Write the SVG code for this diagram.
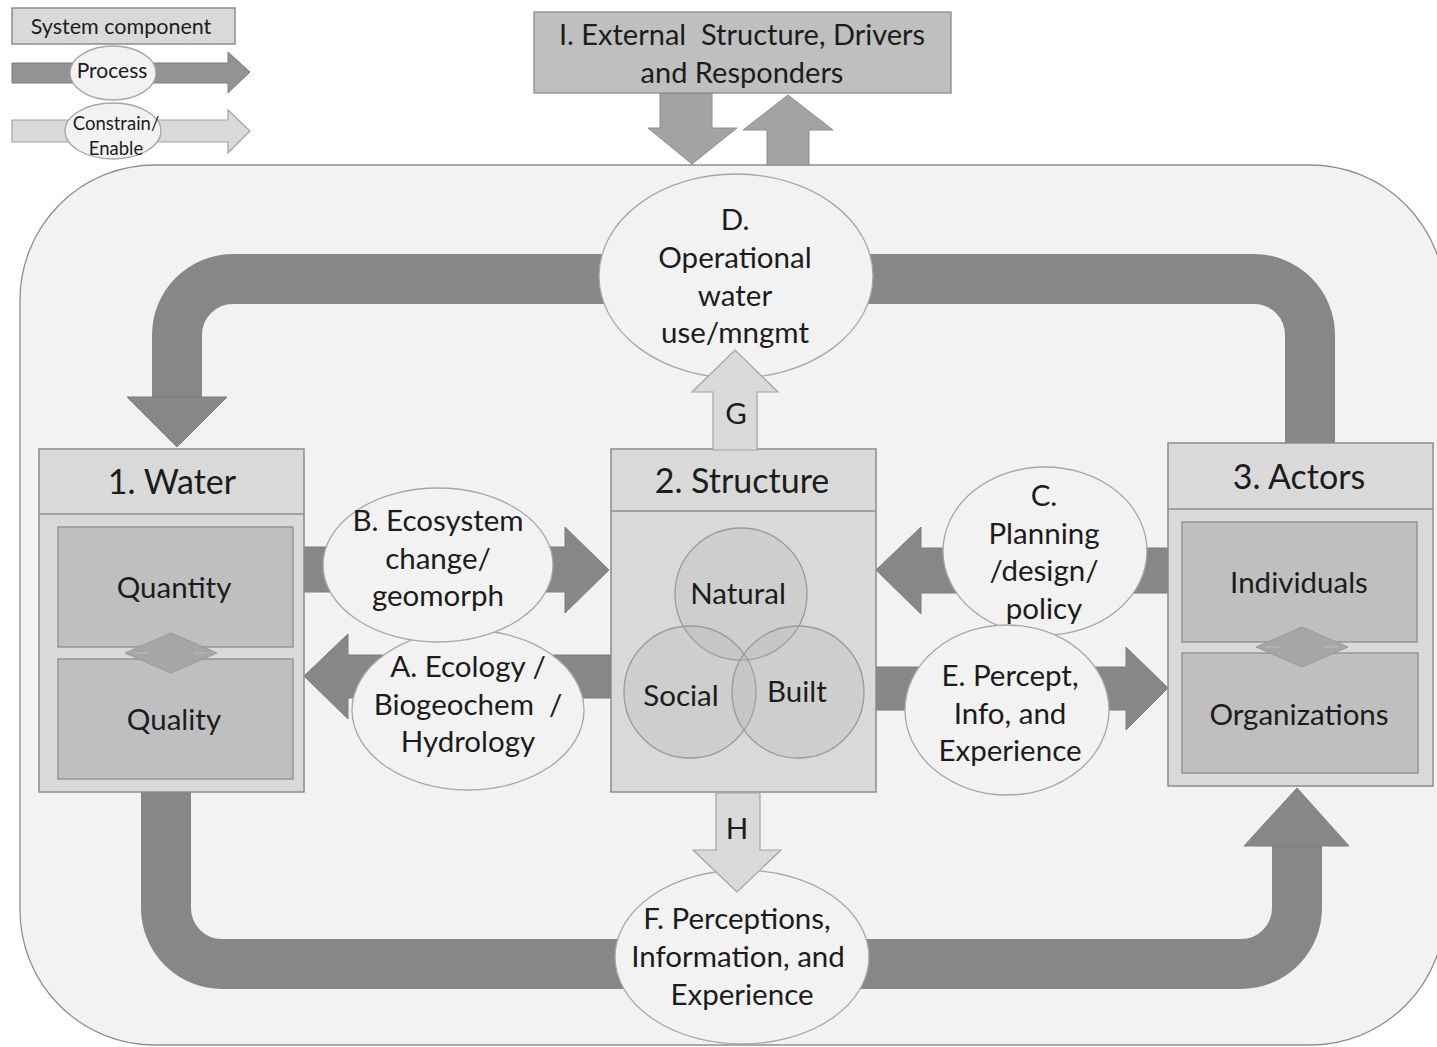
<svg xmlns="http://www.w3.org/2000/svg" width="1437" height="1047" viewBox="0 0 1437 1047">
  <style>
    .proc { fill: #878787; stroke: #7d7d7d; stroke-width: 1; }
    .band { fill: none; stroke: #878787; stroke-width: 50; }
    .ce { fill: #d9d9d9; stroke: #a3a3a3; stroke-width: 1.2; }
    .ext { fill: #a3a3a3; stroke: #8c8c8c; stroke-width: 1; }
    .ell { fill: #f2f2f2; stroke: #a6a6a6; stroke-width: 1.3; }
    .box { fill: #d9d9d9; stroke: #8c8c8c; stroke-width: 1.5; }
    .inner { fill: #bfbfbf; stroke: #8c8c8c; stroke-width: 1.3; }
    .circ { fill: #b0b0b0; fill-opacity: 0.25; stroke: #9a9a9a; stroke-width: 1.3; }
    .dia { fill: #a6a6a6; stroke: #999999; stroke-width: 1; }
    text { font-family: Lato, "Open Sans", "Liberation Sans", sans-serif; fill: #1c1c1c; text-anchor: middle; white-space: pre; }
    .t { font-size: 29.5px; }
    .h { font-size: 34px; }
  </style>

  <!-- system boundary -->
  <rect x="20" y="165" width="1425" height="880" rx="135" ry="135" fill="#f2f2f2" stroke="#8f8f8f" stroke-width="1.3"/>

  <!-- legend -->
  <g id="legend">
    <rect x="12" y="8" width="223" height="36" class="box" fill="#d9d9d9"/>
    <text x="121" y="34" style="font-size:21.5px">System component</text>
    <polygon class="proc" fill-opacity="0.9" points="12,63 228,63 228,52 250,72 228,93 228,83 12,83"/>
    <ellipse cx="113" cy="73" rx="43" ry="27" class="ell"/>
    <text x="112" y="78" style="font-size:21px">Process</text>
    <polygon class="ce" points="12,120 228,120 228,110 250,131 228,153 228,142 12,142"/>
    <ellipse cx="113" cy="131" rx="48" ry="28" class="ell"/>
    <text x="116" y="130" style="font-size:18.5px">Constrain/</text>
    <text x="116" y="155" style="font-size:18.5px">Enable</text>
  </g>

  <!-- connectors -->
  <g id="connectors">
    <!-- exchange with external box -->
    <polygon class="ext" points="660,93 712,93 712,128 737,128 692,164 648,128 660,128"/>
    <polygon class="ext" points="767,165 767,130 743,130 788,95 833,130 809,130 809,165"/>

    <!-- outer loop: actors -> D -> water -->
    <path class="band" d="M1310,443 V335 A56,56 0 0 0 1254,279 H233 A56,56 0 0 0 177,335 V398"/>
    <polygon class="proc" points="127,397 227,397 177,447"/>

    <!-- outer loop: water -> F -> actors -->
    <path class="band" d="M166,792 V908 A56,56 0 0 0 222,964 H1241 A56,56 0 0 0 1297,908 V845"/>
    <polygon class="proc" points="1244,846 1349,846 1297,788"/>

    <!-- B: water -> structure -->
    <polygon class="proc" points="304,547 565,547 565,527 609,570 565,613 565,592 304,592"/>
    <!-- A: structure -> water -->
    <polygon class="proc" points="611,655 348,655 348,634 304,676 348,719 348,698 611,698"/>
    <!-- C: actors -> structure -->
    <polygon class="proc" points="1168,548 921,548 921,527 876,570 921,614 921,593 1168,593"/>
    <!-- E: structure -> actors -->
    <polygon class="proc" points="876,667 1126,667 1126,647 1168,688 1126,730 1126,710 876,710"/>
  </g>

  <!-- external structure box -->
  <g id="external">
    <rect x="534" y="12" width="417" height="81" fill="#bfbfbf" stroke="#8c8c8c" stroke-width="1.3"/>
    <text x="742" y="45" style="font-size:29px">I. External  Structure, Drivers</text>
    <text x="742" y="83" style="font-size:29px">and Responders</text>
  </g>

  <!-- process ellipses -->
  <g id="proc-a">
    <ellipse cx="468" cy="710" rx="116" ry="80" class="ell"/>
    <text class="t" x="468" y="677">A. Ecology /</text>
    <text class="t" x="468" y="715">Biogeochem  /</text>
    <text class="t" x="468" y="752">Hydrology</text>
  </g>
  <g id="proc-b">
    <ellipse cx="438" cy="565" rx="115" ry="77" class="ell"/>
    <text class="t" x="438" y="531">B. Ecosystem</text>
    <text class="t" x="438" y="569">change/</text>
    <text class="t" x="438" y="606">geomorph</text>
  </g>
  <g id="proc-c">
    <ellipse cx="1045" cy="551" rx="102" ry="84" class="ell"/>
    <text class="t" x="1044" y="506">C.</text>
    <text class="t" x="1044" y="544">Planning</text>
    <text class="t" x="1044" y="581">/design/</text>
  </g>
  <g id="proc-e">
    <ellipse cx="1007" cy="710" rx="102" ry="85" class="ell"/>
    <text class="t" x="1010" y="686">E. Percept,</text>
    <text class="t" x="1010" y="724">Info, and</text>
    <text class="t" x="1010" y="761">Experience</text>
  </g>
  <text class="t" x="1044" y="619">policy</text>
  <g id="proc-d">
    <ellipse cx="736" cy="276" rx="137" ry="102" class="ell"/>
    <text class="t" x="735" y="230">D.</text>
    <text class="t" x="735" y="268">Operational</text>
    <text class="t" x="735" y="306">water</text>
    <text class="t" x="735" y="343">use/mngmt</text>
  </g>
  <g id="proc-f">
    <ellipse cx="742" cy="957" rx="127" ry="87" class="ell"/>
    <text class="t" x="737" y="929">F. Perceptions,</text>
    <text class="t" x="738" y="967">Information, and</text>
    <text class="t" x="742" y="1005">Experience</text>
  </g>

  <!-- 1. Water -->
  <g id="water">
    <rect x="39" y="449" width="265" height="343" class="box"/>
    <line x1="39" y1="514" x2="304" y2="514" stroke="#8c8c8c" stroke-width="1.5"/>
    <text class="h" x="172" y="494">1. Water</text>
    <rect x="58" y="527" width="235" height="120" class="inner"/>
    <text class="t" x="174" y="598">Quantity</text>
    <rect x="58" y="659" width="235" height="120" class="inner"/>
    <text class="t" x="174" y="730">Quality</text>
    <polygon class="dia" points="125,653 171,633 217,653 171,673"/>
    <path d="M135,653 H148 M194,653 H207" stroke="#b8b8b8" stroke-width="1.5"/>
  </g>

  <!-- 2. Structure -->
  <g id="structure">
    <rect x="611" y="449" width="265" height="343" class="box"/>
    <line x1="611" y1="511" x2="876" y2="511" stroke="#8c8c8c" stroke-width="1.5"/>
    <text class="h" x="742" y="493">2. Structure</text>
    <circle cx="741" cy="594" r="66" class="circ"/>
    <circle cx="690" cy="692" r="66" class="circ"/>
    <circle cx="798" cy="692" r="66" class="circ"/>
    <text class="t" x="738" y="604">Natural</text>
    <text class="t" x="681" y="706">Social</text>
    <text class="t" x="797" y="702">Built</text>
  </g>

  <!-- 3. Actors -->
  <g id="actors">
    <rect x="1168" y="443" width="265" height="343" class="box"/>
    <line x1="1168" y1="509" x2="1433" y2="509" stroke="#8c8c8c" stroke-width="1.5"/>
    <text class="h" x="1299" y="489">3. Actors</text>
    <rect x="1182" y="522" width="235" height="120" class="inner"/>
    <text class="t" x="1299" y="593">Individuals</text>
    <rect x="1182" y="653" width="236" height="120" class="inner"/>
    <text class="t" x="1299" y="725">Organizations</text>
    <polygon class="dia" points="1256,647 1302,627 1348,647 1302,667"/>
    <path d="M1266,647 H1279 M1325,647 H1338" stroke="#b8b8b8" stroke-width="1.5"/>
  </g>

  <!-- constrain/enable arrows G and H -->
  <g id="arrow-g">
    <polygon class="ce" points="713,450 713,392 692,392 735,350 778,392 757,392 757,450"/>
    <text class="t" x="736" y="424">G</text>
  </g>
  <g id="arrow-h">
    <polygon class="ce" points="716,793 716,850 693,850 737,892 781,850 760,850 760,793"/>
    <text class="t" x="737" y="839">H</text>
  </g>
</svg>
